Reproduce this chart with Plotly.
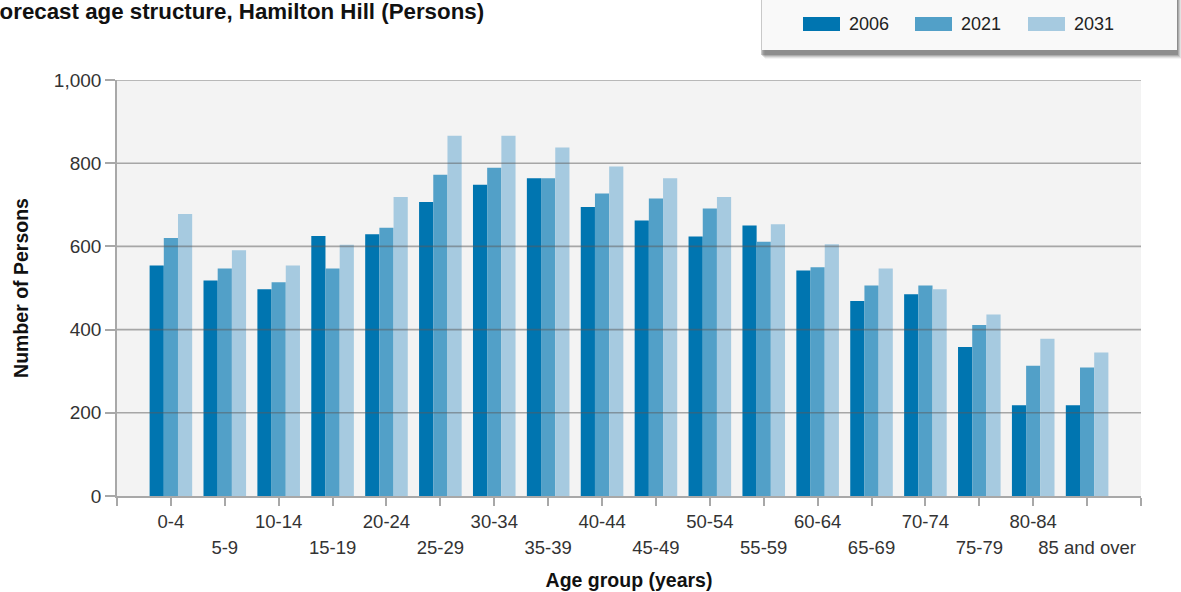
import plotly.graph_objects as go

# Age groups and population counts per forecast year
age_groups = ["0-4", "5-9", "10-14", "15-19", "20-24", "25-29", "30-34", "35-39",
              "40-44", "45-49", "50-54", "55-59", "60-64", "65-69", "70-74",
              "75-79", "80-84", "85 and over"]
persons_2006 = [554, 518, 497, 625, 629, 707, 748, 764, 695, 662, 624, 650, 542, 469, 485, 358, 218, 218]
persons_2021 = [620, 547, 514, 547, 645, 772, 789, 764, 727, 715, 691, 611, 550, 506, 506, 411, 313, 309]
persons_2031 = [678, 591, 554, 604, 719, 866, 866, 838, 792, 764, 719, 653, 605, 547, 497, 436, 378, 345]
years = ["2006", "2021", "2031"]
y_ticks = [0, 200, 400, 600, 800, 1000]

colors = ["#0075b0", "#52a0c8", "#a6cae0"]
FONT = "Liberation Sans, Arial, sans-serif"

W, H = 1181, 592
ML, MR, MT, MB = 117, 40, 80, 96
PW, PH = W - ML - MR, H - MT - MB


def px_x(p):
    return (p - ML) / PW


def px_y(p):
    return (H - MB - p) / PH


idx = list(range(len(age_groups)))
fig = go.Figure()
for name, vals, col in zip(years, [persons_2006, persons_2021, persons_2031], colors):
    fig.add_trace(go.Bar(x=idx, y=vals, name=name, marker=dict(color=col, line=dict(width=0)),
                         showlegend=False))

# ticks at every slot from -1 to 18, labels on alternating rows
tick_all = list(range(-1, len(age_groups) + 1))
text_even = [age_groups[i] if 0 <= i < len(age_groups) and i % 2 == 0 else "" for i in tick_all]
odd_vals = [i for i in idx if i % 2 == 1]
odd_text = [age_groups[i] for i in odd_vals]

# invisible carrier so the second-row label axis gets drawn
fig.add_trace(go.Scatter(x=odd_vals, y=[0] * len(odd_vals), xaxis="x2", mode="markers",
                         marker=dict(opacity=0), hoverinfo="skip", showlegend=False))

shapes = []
# gridlines drawn over the bars
for v in y_ticks[1:]:
    shapes.append(dict(type="line", xref="paper", yref="y", x0=0, x1=1, y0=v, y1=v,
                       line=dict(color="rgba(90,90,90,0.5)", width=1.6), layer="above"))

# legend panel with soft shadow
for k, a in enumerate([0.06, 0.10, 0.14, 0.20, 0.28]):
    off = 5 - k
    shapes.append(dict(type="rect", xref="paper", yref="paper",
                       x0=px_x(760 + off), x1=px_x(1177 + off), y0=px_y(50 + off + 4), y1=px_y(-10),
                       fillcolor=f"rgba(60,60,60,{a})", line=dict(width=0), layer="above"))
shapes.append(dict(type="rect", xref="paper", yref="paper",
                   x0=px_x(762), x1=px_x(1177), y0=px_y(50), y1=px_y(-10),
                   fillcolor="#f9f9f9", line=dict(width=0), layer="above"))

annotations = []
sw_x = [803, 915, 1028]
for name, col, sx in zip(years, colors, sw_x):
    shapes.append(dict(type="rect", xref="paper", yref="paper",
                       x0=px_x(sx), x1=px_x(sx + 37), y0=px_y(31), y1=px_y(17),
                       fillcolor=col, line=dict(width=0), layer="above"))
    annotations.append(dict(text=name, xref="paper", yref="paper", x=px_x(sx + 44), y=px_y(24),
                            xanchor="left", yanchor="middle", showarrow=False,
                            font=dict(family=FONT, size=18, color="#222")))

annotations.append(dict(text="<b>Forecast age structure, Hamilton Hill (Persons)</b>",
                        xref="paper", yref="paper", x=px_x(-16), y=px_y(12),
                        xanchor="left", yanchor="middle", showarrow=False,
                        font=dict(family=FONT, size=22.3, color="#111")))

fig.update_layout(
    width=W, height=H,
    margin=dict(l=ML, r=MR, t=MT, b=MB, autoexpand=False),
    paper_bgcolor="white", plot_bgcolor="#f3f3f3",
    barmode="group", bargap=0.21, bargroupgap=0,
    font=dict(family=FONT, color="#333"),
    shapes=shapes, annotations=annotations,
    xaxis=dict(range=[-1, len(age_groups)], tickmode="array", tickvals=tick_all, ticktext=text_even,
               ticks="outside", ticklen=8, tickwidth=1.5, tickcolor="#a8a8a8",
               showline=True, linecolor="#a8a8a8", linewidth=1.6, showgrid=False, zeroline=False,
               tickfont=dict(size=18.5, color="#333"), tickangle=0,
               title=dict(text="<b>Age group (years)</b>", font=dict(size=19.5, color="#111"), standoff=42)),
    xaxis2=dict(range=[-1, len(age_groups)], overlaying="x", anchor="y", side="bottom",
                tickmode="array", tickvals=odd_vals, ticktext=odd_text, ticks="",
                showline=False, showgrid=False, zeroline=False, ticklabelstandoff=38,
                tickfont=dict(size=18.5, color="#333"), tickangle=0),
    yaxis=dict(range=[0, 1000], tickmode="array", tickvals=y_ticks, tickformat=",",
               ticks="outside", ticklen=10, tickwidth=1.5, tickcolor="#a8a8a8",
               showline=True, linecolor="#a8a8a8", linewidth=1.6, showgrid=False, zeroline=False,
               tickfont=dict(size=19, color="#333"),
               title=dict(text="<b>Number of Persons</b>", font=dict(size=19.5, color="#111"), standoff=20)),
)

fig.write_html("out.html")
